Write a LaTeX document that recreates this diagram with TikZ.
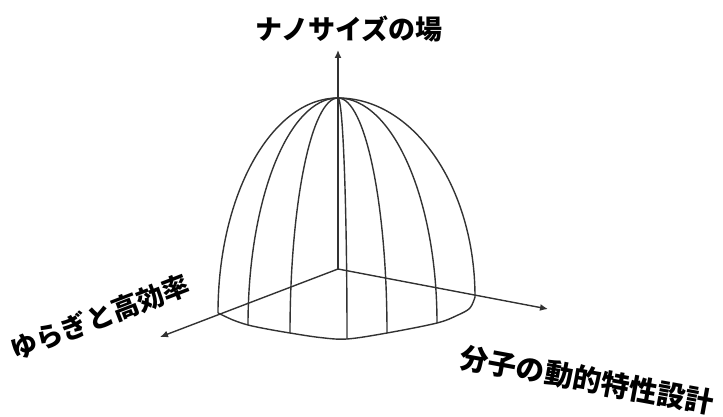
\documentclass[tikz,border=0pt]{standalone}
\usepackage{fontspec}
\usepackage{xcolor}
\usepackage{tikz}
\usetikzlibrary{arrows.meta}
\newfontfamily\jpfont{Noto Sans CJK JP}
\definecolor{linegray}{RGB}{50,50,50}

\begin{document}
\begin{tikzpicture}[x=1pt, y=-1pt]
    % Styles
    \tikzstyle{axis} = [line width=1.4pt, linegray, -{Latex[length=8pt, width=7pt]}]
    \tikzstyle{meridian} = [line width=1.4pt, linegray]
    \tikzstyle{axislabel} = [font=\jpfont\bfseries\fontsize{27}{30}\selectfont, inner sep=0pt]

    \useasboundingbox (0,0) rectangle (723,417);

    % Origin, dome top and axis ends
    \coordinate (o) at (338,269);
    \coordinate (top) at (338,98);
    \coordinate (zt) at (338,50);
    \coordinate (xl) at (160,337);
    \coordinate (xr) at (548,309);

    % Axes
    \draw [axis] (o) -- (zt);
    \draw [axis] (o) -- (xl);
    \draw [axis] (o) -- (xr);

    % Meridians of the dome
    \foreach \x/\y [count=\i] in {218/313, 248/325, 290/333, 347/339, 387/333, 437/323, 475/297} {
        \coordinate (b\i) at (\x,\y);
        \draw [meridian] (b\i) .. controls (\x,{\y-0.552*(\y-98)}) and ({338+0.552*(\x-338)},98) .. (top);
    }

    % Base of the dome
    \draw [meridian] plot [smooth, tension=0.55] coordinates {(b1) (233,320) (b2) (267,329) (b3) (320,337.5) (b4) (b5) (b6) (458,315) (470,308) (b7)};

    % Labels
    \node [axislabel] (field) at (349,29) {ナノサイズの場};
    \node [axislabel, rotate=21] (fluct) at (100,317) {ゆらぎと高効率};
    \node [axislabel, rotate=-10.4, font=\jpfont\bfseries\fontsize{28.5}{30}\selectfont] (design) at (587,380) {分子の動的特性設計};
\end{tikzpicture}
\end{document}
